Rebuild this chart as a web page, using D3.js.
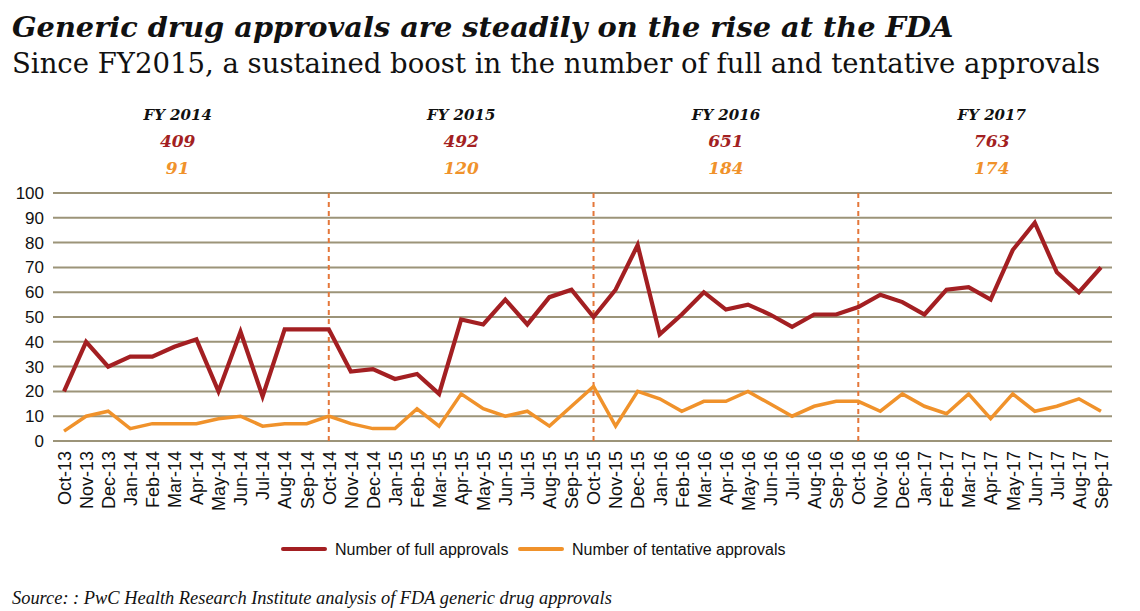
<!DOCTYPE html>
<html lang="en">

<head>
    <meta charset="UTF-8">
    <title>Generic drug approvals</title>
    <script src="https://cdn.jsdelivr.net/npm/d3@7"></script>
    <style>
        body { margin: 0; background: #fff; }
        svg { display: block; }
    </style>
</head>

<body>
    <svg id="chart"></svg>
</body>

<script>
    // month labels, Oct-13 .. Sep-17
    var months = [
        "Oct-13", "Nov-13", "Dec-13", "Jan-14", "Feb-14", "Mar-14", "Apr-14", "May-14", "Jun-14", "Jul-14", "Aug-14", "Sep-14",
        "Oct-14", "Nov-14", "Dec-14", "Jan-15", "Feb-15", "Mar-15", "Apr-15", "May-15", "Jun-15", "Jul-15", "Aug-15", "Sep-15",
        "Oct-15", "Nov-15", "Dec-15", "Jan-16", "Feb-16", "Mar-16", "Apr-16", "May-16", "Jun-16", "Jul-16", "Aug-16", "Sep-16",
        "Oct-16", "Nov-16", "Dec-16", "Jan-17", "Feb-17", "Mar-17", "Apr-17", "May-17", "Jun-17", "Jul-17", "Aug-17", "Sep-17"
    ];

    var fullApprovals = [
        20, 40, 30, 34, 34, 38, 41, 20, 44, 18, 45, 45,
        45, 28, 29, 25, 27, 19, 49, 47, 57, 47, 58, 61,
        50, 61, 79, 43, 51, 60, 53, 55, 51, 46, 51, 51,
        54, 59, 56, 51, 61, 62, 57, 77, 88, 68, 60, 70
    ];

    var tentativeApprovals = [
        4, 10, 12, 5, 7, 7, 7, 9, 10, 6, 7, 7,
        10, 7, 5, 5, 13, 6, 19, 13, 10, 12, 6, 14,
        22, 6, 20, 17, 12, 16, 16, 20, 15, 10, 14, 16,
        16, 12, 19, 14, 11, 19, 9, 19, 12, 14, 17, 12
    ];

    // fiscal year header
    var fyLabels = ["FY 2014", "FY 2015", "FY 2016", "FY 2017"];
    var fyFull = [409, 492, 651, 763];
    var fyTentative = [91, 120, 184, 174];
    var fyStarts = ["Oct-14", "Oct-15", "Oct-16"];   // dashed separators

    var yTicks = [0, 10, 20, 30, 40, 50, 60, 70, 80, 90, 100];

    var seriesNames = ["Number of full approvals", "Number of tentative approvals"];

    document.addEventListener("DOMContentLoaded", function () {
        drawChart();
    });

    function drawChart() {
        var width = 1140;
        var height = 611;
        var red = "#a31f22";
        var orange = "#f0922b";
        var gridColor = "#9c9479";
        var serif = "'DejaVu Serif', serif";
        var sans = "'Liberation Sans', Arial, sans-serif";

        var svg = d3.select("#chart")
            .attr("width", width)
            .attr("height", height);

        var plot = { left: 53, right: 1112, top: 193, bottom: 441 };

        var x = d3.scalePoint()
            .domain(months)
            .range([plot.left, plot.right])
            .padding(0.5);

        var y = d3.scaleLinear()
            .domain([0, 100])
            .range([plot.bottom, plot.top]);

        // title + subtitle
        svg.append("text")
            .attr("x", 12)
            .attr("y", 37)
            .style("font-family", serif)
            .style("font-weight", "bold")
            .style("font-style", "italic")
            .style("font-size", "28.8px")
            .style("fill", "#111")
            .text("Generic drug approvals are steadily on the rise at the FDA");

        svg.append("text")
            .attr("x", 12)
            .attr("y", 73)
            .style("font-family", serif)
            .style("font-size", "27.5px")
            .style("fill", "#111")
            .text("Since FY2015, a sustained boost in the number of full and tentative approvals");

        // gridlines
        svg.append("g")
            .selectAll("line")
            .data(yTicks)
            .enter()
            .append("line")
            .attr("x1", plot.left)
            .attr("x2", plot.right)
            .attr("y1", d => y(d))
            .attr("y2", d => y(d))
            .style("stroke", gridColor)
            .style("stroke-width", 2);

        // y axis labels
        var yAxis = svg.append("g")
            .attr("transform", "translate(" + (plot.left - 9) + ",0)")
            .call(d3.axisLeft(y).tickValues(yTicks).tickSize(0).tickPadding(0));
        yAxis.select(".domain").remove();
        yAxis.selectAll("text")
            .style("font-family", sans)
            .style("font-size", "17px")
            .style("fill", "#111");

        // x axis labels, rotated
        var xAxis = svg.append("g")
            .attr("transform", "translate(0," + plot.bottom + ")")
            .call(d3.axisBottom(x).tickSize(0).tickPadding(0));
        xAxis.select(".domain").remove();
        xAxis.selectAll("text")
            .attr("transform", "rotate(-90)")
            .attr("x", -10)
            .attr("y", 0)
            .attr("dy", "0.35em")
            .style("text-anchor", "end")
            .style("font-family", sans)
            .style("font-size", "18px")
            .style("fill", "#111");

        // fiscal year separators
        svg.append("g")
            .selectAll("line")
            .data(fyStarts)
            .enter()
            .append("line")
            .attr("x1", d => x(d))
            .attr("x2", d => x(d))
            .attr("y1", plot.top)
            .attr("y2", plot.bottom)
            .style("stroke", "#e4773a")
            .style("stroke-width", 2)
            .style("stroke-dasharray", "5,4");

        // lines
        var line = d3.line()
            .x((d, i) => x(months[i]))
            .y(d => y(d));

        svg.append("path")
            .datum(tentativeApprovals)
            .attr("d", line)
            .style("fill", "none")
            .style("stroke", orange)
            .style("stroke-width", 3.5)
            .style("stroke-linejoin", "miter");

        svg.append("path")
            .datum(fullApprovals)
            .attr("d", line)
            .style("fill", "none")
            .style("stroke", red)
            .style("stroke-width", 4.2)
            .style("stroke-linejoin", "miter");

        // header: label centre sits on a fractional month index
        var step = x.step();
        var fyAt = [5.15, 18, 30, 42.05];
        var fx = i => x(months[0]) + fyAt[i] * step;

        var header = svg.append("g")
            .selectAll("g")
            .data(fyLabels)
            .enter()
            .append("g")
            .attr("transform", (d, i) => "translate(" + fx(i) + ",0)")
            .style("font-family", serif)
            .style("font-style", "italic")
            .style("font-weight", "bold")
            .style("text-anchor", "middle");

        header.append("text")
            .attr("y", 120)
            .style("font-size", "15px")
            .style("fill", "#111")
            .text(d => d);

        header.append("text")
            .attr("y", 147)
            .style("font-size", "17px")
            .style("fill", red)
            .text((d, i) => fyFull[i]);

        header.append("text")
            .attr("y", 174)
            .style("font-size", "17px")
            .style("fill", orange)
            .text((d, i) => fyTentative[i]);

        // legend
        var legendX = [283, 520];
        var legendColors = [red, orange];
        var legend = svg.append("g")
            .selectAll("g")
            .data(seriesNames)
            .enter()
            .append("g")
            .attr("transform", (d, i) => "translate(" + legendX[i] + ",549)");

        legend.append("line")
            .attr("x1", 0)
            .attr("x2", 42)
            .style("stroke", (d, i) => legendColors[i])
            .style("stroke-width", 4)
            .style("stroke-linecap", "round");

        legend.append("text")
            .attr("x", 52)
            .attr("y", 6)
            .style("font-family", sans)
            .style("font-size", "16px")
            .style("fill", "#111")
            .text(d => d);

        // source
        svg.append("text")
            .attr("x", 12)
            .attr("y", 604)
            .style("font-family", "'Liberation Serif', serif")
            .style("font-style", "italic")
            .style("font-size", "18.4px")
            .style("fill", "#111")
            .text("Source: : PwC Health Research Institute analysis of FDA generic drug approvals");
    }
</script>

</html>
